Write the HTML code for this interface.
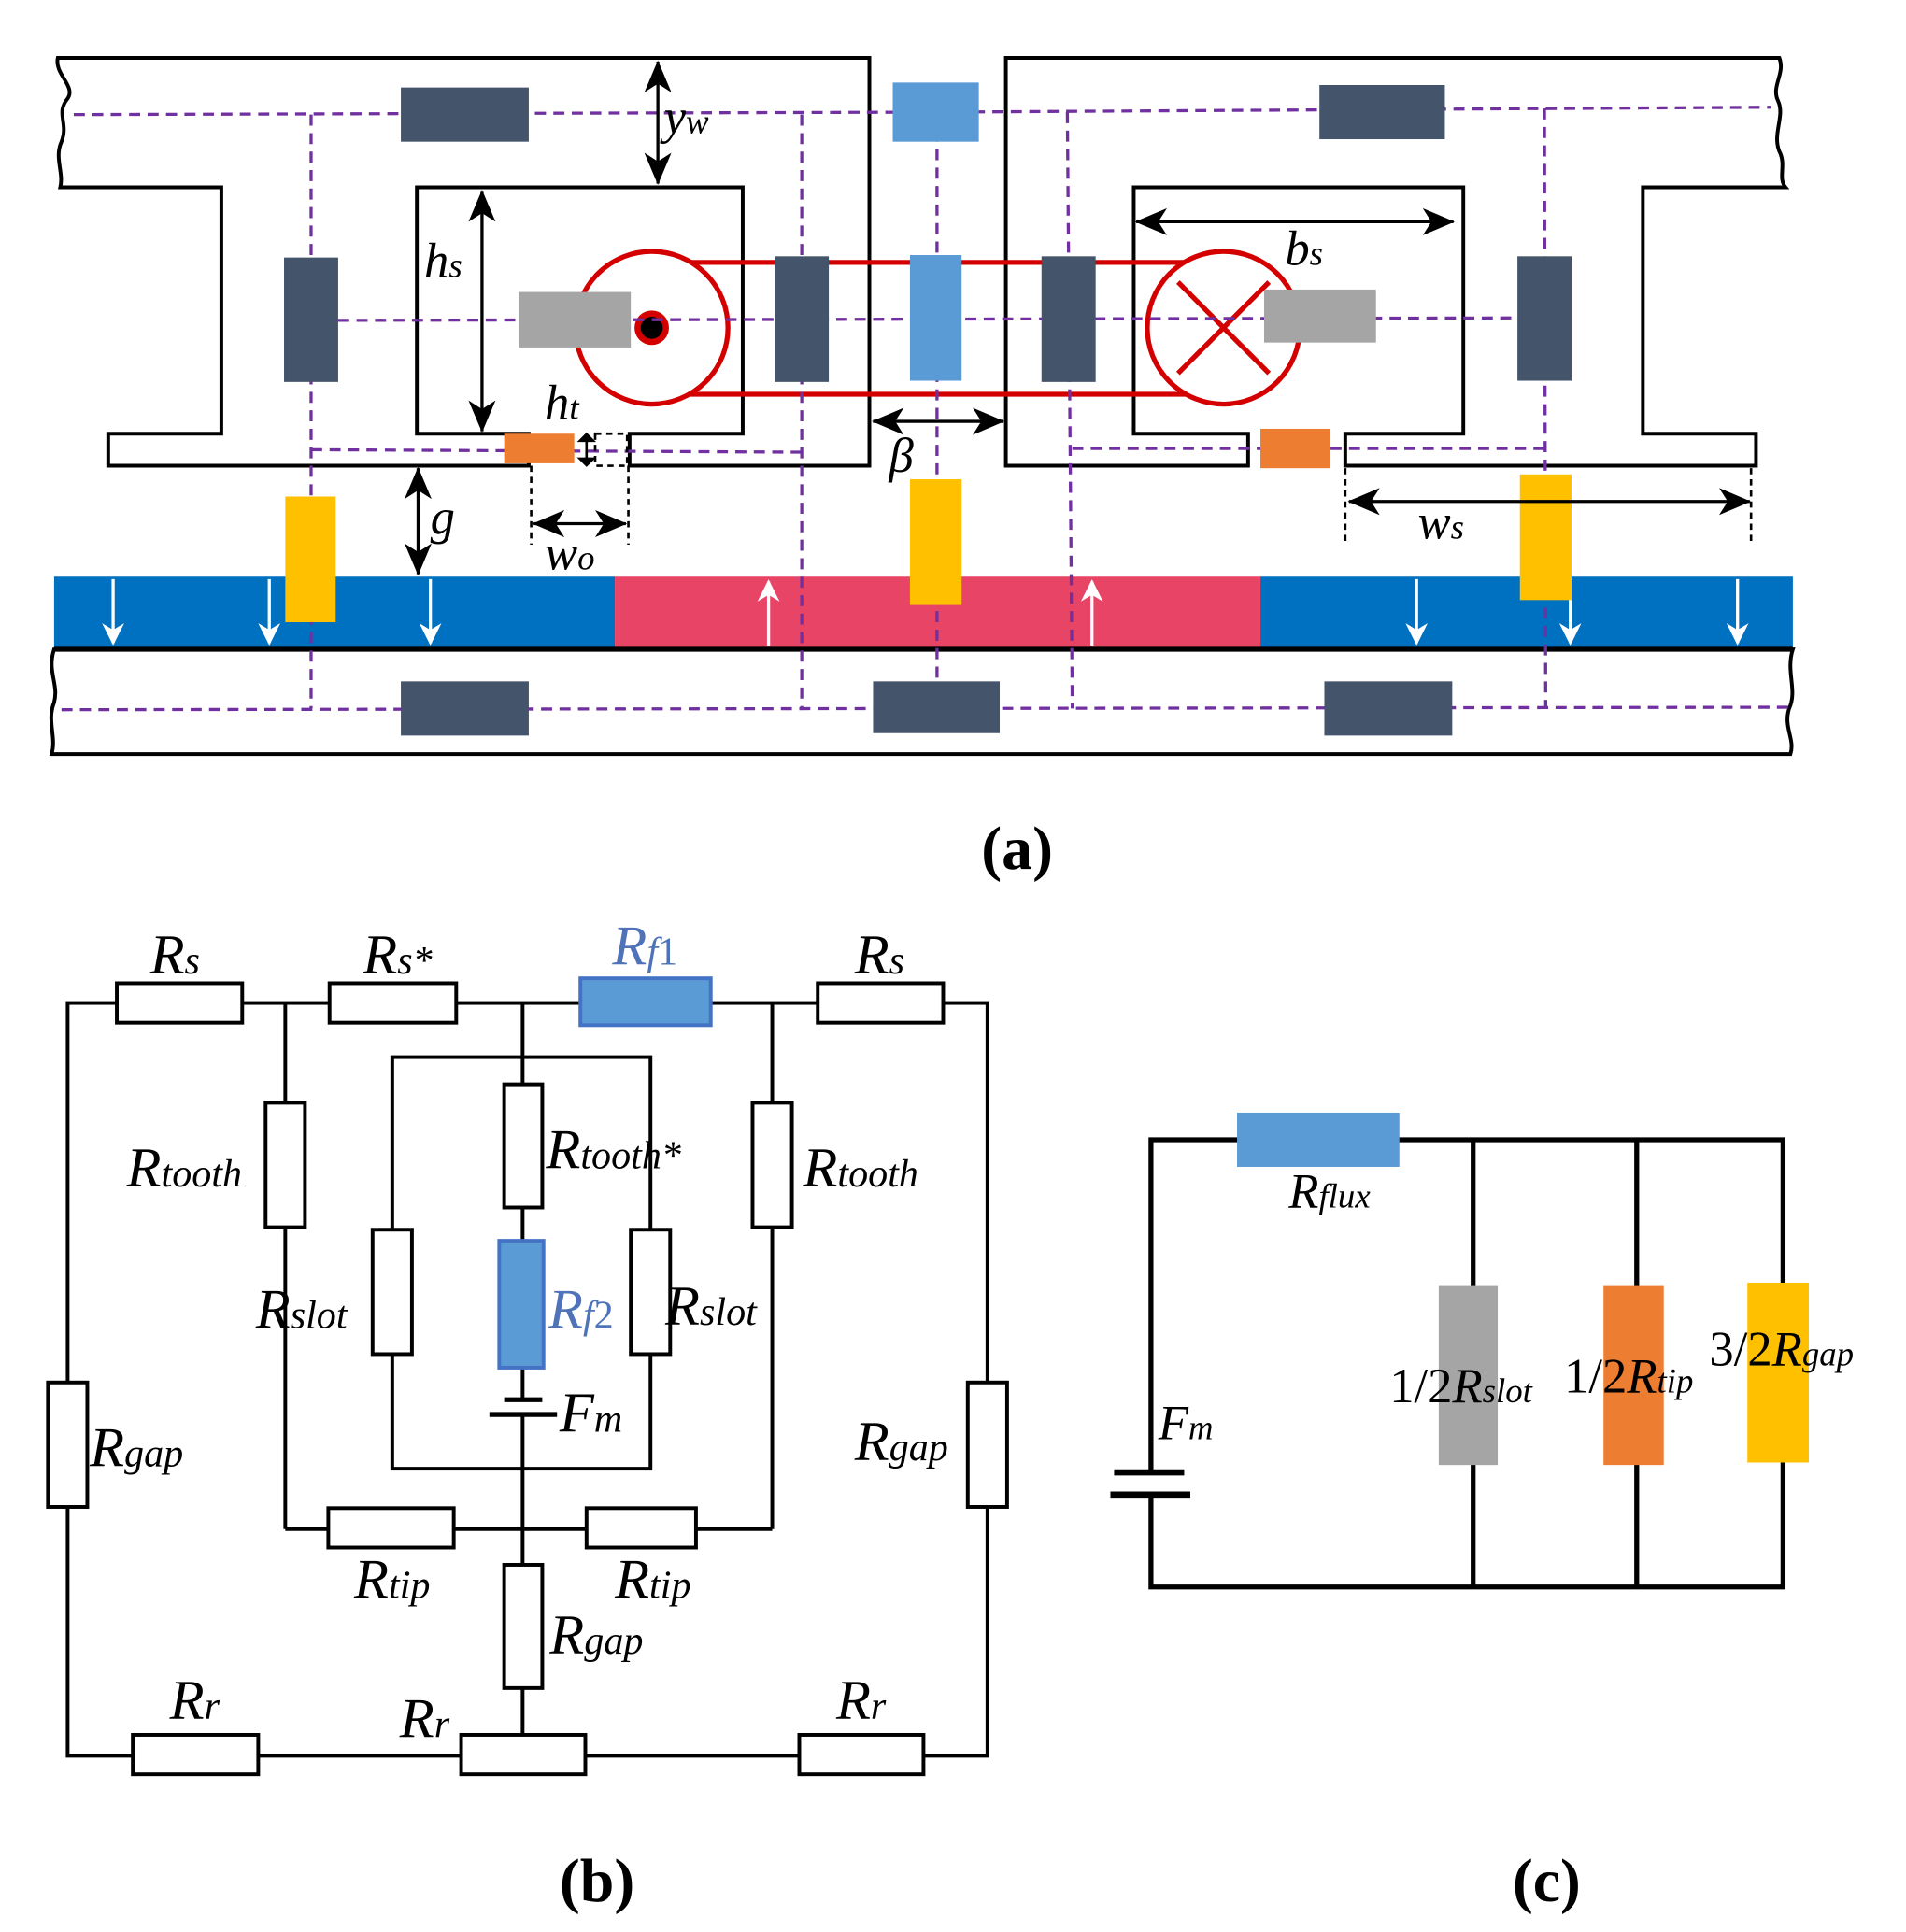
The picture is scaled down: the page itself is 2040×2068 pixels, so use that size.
<!DOCTYPE html>
<html><head><meta charset="utf-8"><style>
html,body{margin:0;padding:0;background:#fff;}
svg{display:block;}
.t{font-family:"Liberation Serif",serif;font-style:italic;fill:#000;}
.lb{font-family:"Liberation Serif",serif;font-weight:bold;fill:#000;}
</style></head><body>
<svg width="2040" height="2068" viewBox="0 0 1550 1568" preserveAspectRatio="none" xmlns="http://www.w3.org/2000/svg">
<defs>
<marker id="ar" viewBox="0 0 26 22" refX="25" refY="11" markerWidth="26" markerHeight="22" orient="auto-start-reverse" markerUnits="userSpaceOnUse">
<path d="M0,0 L26,11 L0,22 L7,11 Z" fill="#000"/>
</marker>
<marker id="wa" viewBox="0 0 10 10" refX="9" refY="5" markerWidth="18" markerHeight="18" orient="auto" markerUnits="userSpaceOnUse">
<path d="M0,0 L10,5 L0,10 L3,5 Z" fill="#fff"/>
</marker>
</defs>

<rect x="44" y="468" width="456" height="58" fill="#0070c0"/>
<rect x="500" y="468" width="525" height="58" fill="#e84566"/>
<rect x="1025" y="468" width="433" height="58" fill="#0070c0"/>
<g stroke="#fff" stroke-width="2.5" fill="none">
<line x1="92" y1="470" x2="92" y2="522" marker-end="url(#wa)"/>
<line x1="219" y1="470" x2="219" y2="522" marker-end="url(#wa)"/>
<line x1="350" y1="470" x2="350" y2="522" marker-end="url(#wa)"/>
<line x1="1152" y1="470" x2="1152" y2="522" marker-end="url(#wa)"/>
<line x1="1277" y1="470" x2="1277" y2="522" marker-end="url(#wa)"/>
<line x1="1413" y1="470" x2="1413" y2="522" marker-end="url(#wa)"/>
<line x1="625" y1="524" x2="625" y2="472" marker-end="url(#wa)"/>
<line x1="888" y1="524" x2="888" y2="472" marker-end="url(#wa)"/>
</g>

<path d="M44,527 L1458,527 C1452,545 1462,560 1455,575 C1450,590 1460,600 1456,612 L42,612 C46,598 38,585 44,570 C48,555 38,545 44,527 Z" fill="#fff" stroke="#000" stroke-width="3"/>
<line x1="44" y1="527" x2="1458" y2="527" stroke="#000" stroke-width="4"/>

<path d="M47,47 L707,47 L707,378 L512,378 L512,352 L604,352 L604,152 L339,152 L339,352 L430,352 L430,378 L88,378 L88,352 L180,352 L180,152 L49,152 C52,140 44,128 50,115 C56,100 45,92 55,80 C62,70 44,60 47,47 Z" fill="none" stroke="#000" stroke-width="3"/>
<path d="M818,47 L1447,47 C1452,60 1440,70 1446,82 C1452,95 1440,110 1448,125 C1452,135 1446,145 1452,152 L1336,152 L1336,352 L1428,352 L1428,378 L1094,378 L1094,352 L1190,352 L1190,152 L922,152 L922,352 L1015,352 L1015,378 L818,378 Z" fill="none" stroke="#000" stroke-width="3"/>

<g stroke="#d40000" stroke-width="4" fill="none">
<line x1="530" y1="213" x2="995" y2="213"/>
<line x1="530" y1="320" x2="995" y2="320"/>
<circle cx="530" cy="266" r="62" fill="#fff"/>
<circle cx="995" cy="266" r="62" fill="#fff"/>
<line x1="958" y1="229" x2="1032" y2="303"/>
<line x1="958" y1="303" x2="1032" y2="229"/>
</g>
<circle cx="530" cy="266" r="14" fill="#d40000"/>
<circle cx="530" cy="266" r="9" fill="#000"/>

<g stroke="#7030a0" stroke-width="2.5" fill="none" stroke-dasharray="9,6">
<line x1="60" y1="93" x2="762" y2="91"/>
<line x1="762" y1="91" x2="1440" y2="87"/>
<line x1="253" y1="93" x2="253" y2="575"/>
<line x1="652" y1="93" x2="652" y2="575"/>
<line x1="762" y1="91" x2="762" y2="575"/>
<line x1="868" y1="91" x2="872" y2="575"/>
<line x1="1256" y1="88" x2="1257" y2="575"/>
<line x1="275" y1="260" x2="1235" y2="258"/>
<line x1="253" y1="365" x2="652" y2="367"/>
<line x1="872" y1="364" x2="1256" y2="364"/>
<line x1="50" y1="576" x2="1455" y2="574"/>
</g>

<g fill="#44546a">
<rect x="326" y="71" width="104" height="44"/>
<rect x="1073" y="69" width="102" height="44"/>
<rect x="231" y="209" width="44" height="101"/>
<rect x="630" y="208" width="44" height="102"/>
<rect x="847" y="208" width="44" height="102"/>
<rect x="1234" y="208" width="44" height="101"/>
<rect x="326" y="553" width="104" height="44"/>
<rect x="710" y="553" width="103" height="42"/>
<rect x="1077" y="553" width="104" height="44"/>
</g>
<g fill="#5b9bd5">
<rect x="726" y="67" width="70" height="48"/>
<rect x="740" y="207" width="42" height="102"/>
</g>
<g fill="#ffc000">
<rect x="232" y="403" width="41" height="102"/>
<rect x="740" y="389" width="42" height="102"/>
<rect x="1236" y="385" width="42" height="102"/>
</g>
<g fill="#a5a5a5">
<rect x="422" y="237" width="91" height="45"/>
<rect x="1028" y="235" width="91" height="43"/>
</g>
<g fill="#ed7d31">
<rect x="410" y="352" width="57" height="24"/>
<rect x="1025" y="348" width="57" height="32"/>
</g>

<g stroke="#000" stroke-width="2.5" fill="none">
<line x1="535" y1="50" x2="535" y2="149" marker-start="url(#ar)" marker-end="url(#ar)"/>
<line x1="392" y1="155" x2="392" y2="350" marker-start="url(#ar)" marker-end="url(#ar)"/>
<line x1="340" y1="380" x2="340" y2="466" marker-start="url(#ar)" marker-end="url(#ar)"/>
<line x1="710" y1="342" x2="816" y2="342" marker-start="url(#ar)" marker-end="url(#ar)"/>
<line x1="924" y1="180" x2="1182" y2="180" marker-start="url(#ar)" marker-end="url(#ar)"/>
<line x1="434" y1="425" x2="509" y2="425" marker-start="url(#ar)" marker-end="url(#ar)"/>
<line x1="1097" y1="407" x2="1423" y2="407" marker-start="url(#ar)" marker-end="url(#ar)"/>
<line x1="477" y1="354" x2="477" y2="376" stroke-width="2"/>
</g>
<path d="M471,358 L477,352 L483,358 Z M471,372 L477,378 L483,372 Z" fill="#000" stroke="#000" stroke-width="1.5"/>
<g stroke="#000" stroke-width="2" stroke-dasharray="5,4" fill="none">
<line x1="432" y1="378" x2="432" y2="442"/>
<line x1="511" y1="378" x2="511" y2="442"/>
<line x1="1094" y1="380" x2="1094" y2="442"/>
<line x1="1424" y1="380" x2="1424" y2="442"/>
<rect x="484" y="352" width="26" height="26"/>
</g>

<g class="t" font-size="40">
<text x="540" y="108">y<tspan font-size="28">w</tspan></text>
<text x="345" y="225">h<tspan font-size="28">s</tspan></text>
<text x="443" y="340">h<tspan font-size="28">t</tspan></text>
<text x="723" y="383">β</text>
<text x="350" y="433">g</text>
<text x="443" y="462">w<tspan font-size="28">o</tspan></text>
<text x="1045" y="215">b<tspan font-size="28">s</tspan></text>
<text x="1153" y="437">w<tspan font-size="28">s</tspan></text>
</g>
<text class="lb" x="798" y="705" font-size="50">(a)</text>

<g stroke="#000" stroke-width="3" fill="none">
<rect x="55" y="814" width="748" height="611"/>
<line x1="232" y1="814" x2="232" y2="1241"/>
<line x1="628" y1="814" x2="628" y2="1241"/>
<line x1="232" y1="1241" x2="628" y2="1241"/>
<line x1="425" y1="814" x2="425" y2="1136"/>
<line x1="425" y1="1148" x2="425" y2="1425"/>
<rect x="319" y="858" width="210" height="334"/>
<line x1="410" y1="1136" x2="441" y2="1136" stroke-width="4"/>
<line x1="398" y1="1148" x2="453" y2="1148" stroke-width="4"/>
</g>
<g stroke="#000" stroke-width="3" fill="#fff">
<rect x="95" y="798" width="102" height="32"/>
<rect x="268" y="798" width="103" height="32"/>
<rect x="665" y="798" width="102" height="32"/>
<rect x="216" y="895" width="32" height="101"/>
<rect x="612" y="895" width="32" height="101"/>
<rect x="410" y="880" width="31" height="100"/>
<rect x="303" y="998" width="32" height="101"/>
<rect x="513" y="998" width="32" height="101"/>
<rect x="267" y="1224" width="102" height="32"/>
<rect x="477" y="1224" width="89" height="32"/>
<rect x="410" y="1270" width="31" height="100"/>
<rect x="39" y="1122" width="32" height="101"/>
<rect x="787" y="1122" width="32" height="101"/>
<rect x="108" y="1408" width="102" height="32"/>
<rect x="375" y="1408" width="101" height="32"/>
<rect x="650" y="1408" width="101" height="32"/>
</g>
<rect x="472" y="794" width="106" height="38" fill="#5b9bd5" stroke="#4472c4" stroke-width="3"/>
<rect x="406" y="1007" width="36" height="103" fill="#5b9bd5" stroke="#4472c4" stroke-width="3"/>

<g class="t" font-size="46">
<text x="122" y="790">R<tspan font-size="32">s</tspan></text>
<text x="295" y="790">R<tspan font-size="32">s*</tspan></text>
<text x="498" y="783" fill="#4f73b8">R<tspan font-size="32">f</tspan><tspan font-size="32" font-style="normal">1</tspan></text>
<text x="695" y="790">R<tspan font-size="32">s</tspan></text>
<text x="103" y="963">R<tspan font-size="32">tooth</tspan></text>
<text x="444" y="948">R<tspan font-size="32">tooth*</tspan></text>
<text x="653" y="963">R<tspan font-size="32">tooth</tspan></text>
<text x="208" y="1078">R<tspan font-size="32">slot</tspan></text>
<text x="446" y="1078" fill="#4f73b8">R<tspan font-size="32">f</tspan><tspan font-size="32" font-style="normal">2</tspan></text>
<text x="541" y="1075">R<tspan font-size="32">slot</tspan></text>
<text x="455" y="1162">F<tspan font-size="32">m</tspan></text>
<text x="73" y="1190">R<tspan font-size="32">gap</tspan></text>
<text x="695" y="1185">R<tspan font-size="32">gap</tspan></text>
<text x="288" y="1297">R<tspan font-size="32">tip</tspan></text>
<text x="500" y="1297">R<tspan font-size="32">tip</tspan></text>
<text x="447" y="1342">R<tspan font-size="32">gap</tspan></text>
<text x="138" y="1395">R<tspan font-size="32">r</tspan></text>
<text x="325" y="1410">R<tspan font-size="32">r</tspan></text>
<text x="680" y="1395">R<tspan font-size="32">r</tspan></text>
</g>
<text class="lb" x="455" y="1543" font-size="50">(b)</text>

<g stroke="#000" stroke-width="4" fill="none">
<polyline points="936,1195 936,925 1450,925 1450,1288 936,1288 936,1213"/>
<line x1="1198" y1="925" x2="1198" y2="1288"/>
<line x1="1331" y1="925" x2="1331" y2="1288"/>
<line x1="906" y1="1195" x2="963" y2="1195" stroke-width="5"/>
<line x1="903" y1="1213" x2="968" y2="1213" stroke-width="5"/>
</g>
<rect x="1006" y="903" width="132" height="44" fill="#5b9bd5"/>
<rect x="1170" y="1043" width="48" height="146" fill="#a5a5a5"/>
<rect x="1304" y="1043" width="49" height="146" fill="#ed7d31"/>
<rect x="1421" y="1041" width="50" height="146" fill="#ffc000"/>
<g class="t" font-size="40">
<text x="1048" y="980">R<tspan font-size="28">flux</tspan></text>
<text x="942" y="1168">F<tspan font-size="28">m</tspan></text>
<text x="1130" y="1138"><tspan font-style="normal">1/2</tspan>R<tspan font-size="28">slot</tspan></text>
<text x="1272" y="1130"><tspan font-style="normal">1/2</tspan>R<tspan font-size="28">tip</tspan></text>
<text x="1390" y="1108"><tspan font-style="normal">3/2</tspan>R<tspan font-size="28">gap</tspan></text>
</g>
<text class="lb" x="1230" y="1543" font-size="50">(c)</text>
</svg>
</body></html>
